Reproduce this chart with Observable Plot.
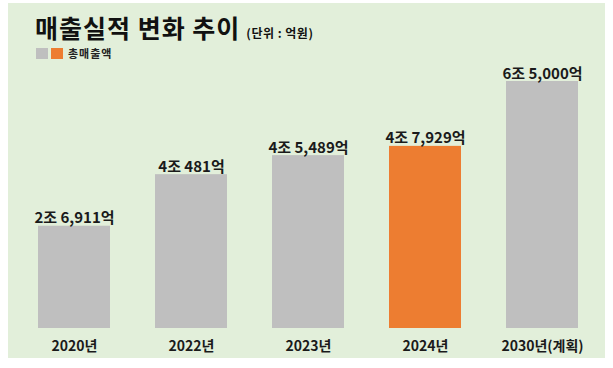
<!DOCTYPE html>
<html>
<head>
<meta charset="utf-8">
<script src="https://cdn.jsdelivr.net/npm/d3@7"></script>
<script src="https://cdn.jsdelivr.net/npm/@observablehq/plot@0.6"></script>
<style>
  html, body { margin: 0; padding: 0; background: #ffffff; }
  body { width: 613px; height: 368px; position: relative; overflow: hidden;
         font-family: "Noto Sans CJK KR", "Noto Sans", sans-serif; }
  #panel { position: absolute; left: 8px; top: 3px; width: 597px; height: 355px; background: #e2efda; }
  #title { position: absolute; left: 27px; top: 9px; font-size: 25px; line-height: 30px; font-weight: 700; color: #111; letter-spacing: 1px; white-space: nowrap; }
  #title small { font-size: 12px; font-weight: 700; margin-left: 6px; letter-spacing: 0.5px; }
  #legend { position: absolute; left: 28px; top: 44px; display: flex; align-items: center; font-size: 11px; line-height: 12px; font-weight: 700; color: #222; }
  #legend .sw { width: 12px; height: 11px; display: inline-block; margin-right: 3px; }
  #chart { position: absolute; left: 0; top: 58px; }
</style>
</head>
<body>
<div id="panel">
  <div id="title">매출실적 변화 추이<small>(단위 : 억원)</small></div>
  <div id="legend"></div>
  <div id="chart"></div>
</div>
<script>
const years = ["2020년", "2022년", "2023년", "2024년", "2030년(계획)"];
const sales = [26911, 40481, 45489, 47929, 65000];
const valueLabels = ["2조 6,911억", "4조 481억", "4조 5,489억", "4조 7,929억", "6조 5,000억"];
const kinds = ["기타", "기타", "기타", "강조", "기타"];
const legendLabel = "총매출액";
const kindDomain = ["기타", "강조"];
const kindColors = ["#bfbfbf", "#ed7d31"];

const data = years.map((y, i) => ({ year: y, value: sales[i], label: valueLabels[i], kind: kinds[i] }));

const legend = document.getElementById("legend");
kindColors.forEach(c => {
  const s = document.createElement("span");
  s.className = "sw"; s.style.background = c;
  legend.appendChild(s);
});
const lt = document.createElement("span");
lt.textContent = legendLabel; lt.style.marginLeft = "2px"; lt.style.letterSpacing = "1px";
legend.appendChild(lt);

const chart = Plot.plot({
  width: 597,
  height: 297,
  marginLeft: 7.5,
  marginRight: 5,
  marginTop: 20,
  marginBottom: 30,
  style: { background: "transparent", fontFamily: "'Noto Sans CJK KR', sans-serif", overflow: "visible" },
  x: { domain: years, paddingInner: 0.385, paddingOuter: 0.19, label: null },
  y: { domain: [0, 65000], axis: null },
  color: { domain: kindDomain, range: kindColors },
  marks: [
    Plot.barY(data, { x: "year", y: "value", fill: "kind" }),
    Plot.text(data, { x: "year", y: "value", text: "label", dy: -3, lineAnchor: "bottom",
      fontSize: 15, fontWeight: 700, fill: "#1a1a1a", letterSpacing: 0.4 }),
    Plot.axisX({ tickSize: 0, tickPadding: 13, fontSize: 14, fontWeight: 700, color: "#1a1a1a", label: null })
  ]
});
document.getElementById("chart").appendChild(chart);
</script>
</body>
</html>
